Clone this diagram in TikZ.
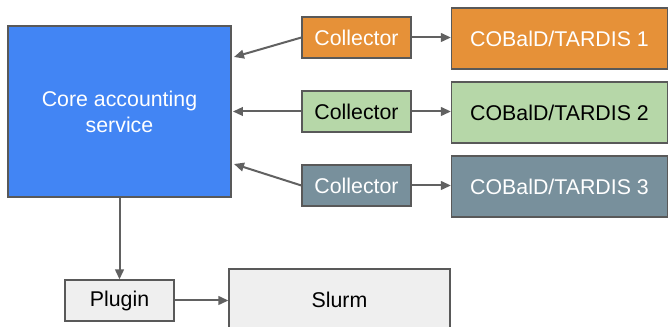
\documentclass[tikz,border=0pt]{standalone}
\usepackage{fontspec}
\setmainfont{Liberation Sans}
\usetikzlibrary{arrows.meta}
\definecolor{gblue}{HTML}{4285F4}
\definecolor{gorange}{HTML}{E69138}
\definecolor{ggreen}{HTML}{B6D7A8}
\definecolor{gslate}{HTML}{78909C}
\definecolor{ggrey}{HTML}{EFEFEF}
\definecolor{gborder}{HTML}{595959}
\definecolor{garrow}{HTML}{616161}
\tikzset{
  box/.style={draw=gborder, line width=0.9pt, inner sep=0pt, align=center,
    font=\fontsize{16pt}{19.5pt}\selectfont},
  core/.style={box, fill=gblue, text=white, minimum width=167.25pt, minimum height=128.25pt},
  coll/.style={box, minimum width=81.75pt, minimum height=30.75pt},
  tard/.style={box, minimum width=162pt, minimum height=45.75pt},
  conn/.style={draw=garrow, line width=1.5pt, -{Triangle[length=7.5pt,width=6.5pt]}}
}
\begin{document}
\begin{tikzpicture}[x=0.75pt,y=-0.75pt]
\useasboundingbox (0,0) rectangle (668,327);
\node[core] (core) at (119.5,111.5) {Core accounting\\service};
\node[coll, fill=gorange, text=white] (c1) at (356.5,37.5) {Collector};
\node[coll, fill=ggreen, text=black] (c2) at (356.5,111.5) {Collector};
\node[coll, fill=gslate, text=white] (c3) at (356.5,185.5) {Collector};
\node[tard, fill=gorange, text=white] (t1) at (559.5,38.5) {COBalD/TARDIS 1};
\node[tard, fill=ggreen, text=black] (t2) at (559.5,112.5) {COBalD/TARDIS 2};
\node[tard, fill=gslate, text=white] (t3) at (559.5,186.5) {COBalD/TARDIS 3};
\node[coll, fill=ggrey] (plugin) at (119.5,300.5) {Plugin};
\node[tard, fill=ggrey, minimum width=165.75pt] (slurm) at (339.5,299.5) {Slurm};
\coordinate (e1) at (234,57);
\coordinate (e3) at (234,164);
\draw[conn] (c1.west) -- (e1);
\draw[conn, shorten >=1pt] (c2.west) -- (core.east);
\draw[conn] (c3.west) -- (e3);
\draw[conn] (c1.east) -- (t1.west |- c1.east);
\draw[conn] (c2.east) -- (t2.west |- c2.east);
\draw[conn] (c3.east) -- (t3.west |- c3.east);
\draw[conn] (core.south) -- (plugin.north);
\draw[conn] (plugin.east) -- (slurm.west |- plugin.east);
\end{tikzpicture}
\end{document}
